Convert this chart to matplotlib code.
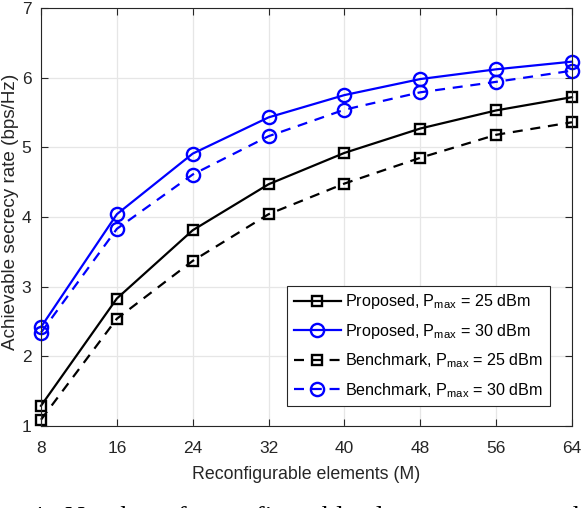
import matplotlib
matplotlib.use('Agg')
from matplotlib import pyplot as plt

plt.rcParams['font.family'] = ['Liberation Sans', 'DejaVu Sans']

# Data.
elements = [8, 16, 24, 32, 40, 48, 56, 64]
proposed_25 = [1.29, 2.83, 3.81, 4.47, 4.92, 5.27, 5.53, 5.72]
proposed_30 = [2.42, 4.04, 4.91, 5.43, 5.75, 5.98, 6.12, 6.23]
bench_25 = [1.09, 2.54, 3.37, 4.04, 4.48, 4.85, 5.18, 5.36]
bench_30 = [2.34, 3.83, 4.61, 5.16, 5.54, 5.79, 5.94, 6.10]
labels = [r'Proposed, P$_{\mathregular{max}}$ = 25 dBm',
          r'Proposed, P$_{\mathregular{max}}$ = 30 dBm',
          r'Benchmark, P$_{\mathregular{max}}$ = 25 dBm',
          r'Benchmark, P$_{\mathregular{max}}$ = 30 dBm']

fig = plt.figure(figsize=(5.82, 5.08), dpi=100)
ax = fig.add_axes([41 / 582, 1 - 426 / 508, 531 / 582, 418 / 508])

sq = dict(marker='s', ms=6.5, mfc='none', mew=1.7, lw=1.6, clip_on=False)
ci = dict(marker='o', ms=9.5, mfc='none', mew=1.7, lw=1.6, clip_on=False)
ax.plot(elements, proposed_25, '-', color='black', label=labels[0], **sq)
ax.plot(elements, proposed_30, '-', color='#0000ff', label=labels[1], **ci)
ax.plot(elements, bench_25, '--', color='black', label=labels[2],
        dashes=(4.5, 3.5), **sq)
ax.plot(elements, bench_30, '--', color='#0000ff', label=labels[3],
        dashes=(4.5, 3.5), **ci)

ax.set_xlim(8, 64)
ax.set_ylim(1, 7)
ax.set_xticks(elements)
ax.set_yticks(range(1, 8))
ax.grid(True, color='#e6e6e6', lw=0.9)
ax.set_axisbelow(True)
ax.tick_params(direction='in', top=True, right=True, length=5,
               labelsize=12.5, colors='#262626')
ax.tick_params(axis='x', pad=11)
ax.tick_params(axis='y', pad=7)
for s in ax.spines.values():
    s.set_color('#262626')
    s.set_linewidth(0.8)

ax.set_xlabel('Reconfigurable elements (M)', fontsize=12.8, color='#262626',
              labelpad=7)
ax.set_ylabel('Achievable secrecy rate (bps/Hz)', fontsize=13.6,
              color='#262626')
ax.yaxis.set_label_coords(-0.041, 0.513)

leg = ax.legend(loc='lower right', bbox_to_anchor=(550 / 582, 1 - 406 / 508),
                bbox_transform=fig.transFigure, fontsize=11.6, fancybox=False,
                framealpha=1, edgecolor='#262626', handlelength=2.9,
                handletextpad=0.3, borderpad=0.4, labelspacing=0.66,
                borderaxespad=0)
leg.get_frame().set_linewidth(0.8)

fig.text(30 / 582, 1 - 525 / 508,
         '4.  Number of reconfigurable elements versus achi',
         family='Liberation Serif', fontsize=20.1, va='baseline')

fig.savefig('out.png', dpi=100)
